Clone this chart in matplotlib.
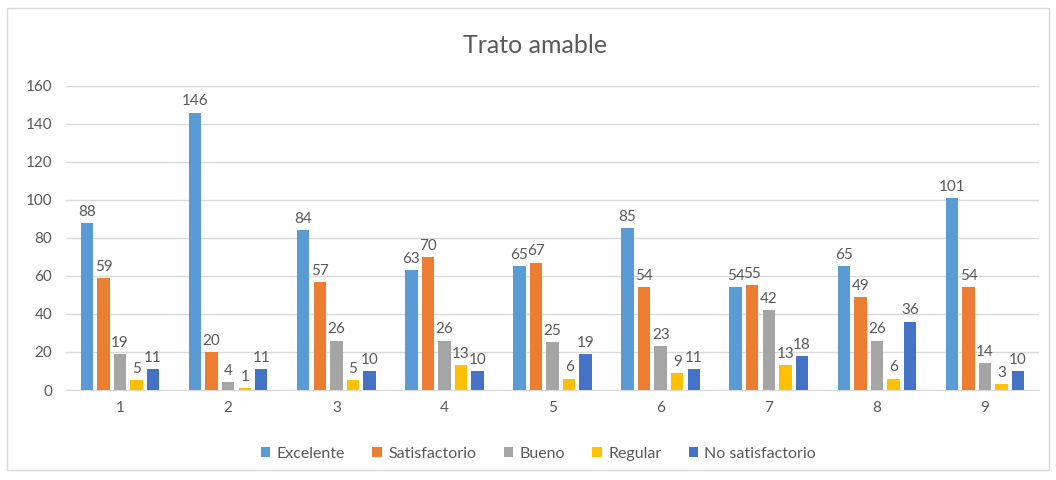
import numpy as np
import matplotlib.pyplot as plt
from matplotlib.patches import Rectangle

plt.rcParams['font.family'] = ['Lato', 'DejaVu Sans']

# Data
categories = ["1", "2", "3", "4", "5", "6", "7", "8", "9"]
series_names = ["Excelente", "Satisfactorio", "Bueno", "Regular", "No satisfactorio"]
excelente = [88, 146, 84, 63, 65, 85, 54, 65, 101]
satisfactorio = [59, 20, 57, 70, 67, 54, 55, 49, 54]
bueno = [19, 4, 26, 26, 25, 23, 42, 26, 14]
regular = [5, 1, 5, 13, 6, 9, 13, 6, 3]
no_satisfactorio = [11, 11, 10, 10, 19, 11, 18, 36, 10]

colors = ["#5B9BD5", "#ED7D31", "#A5A5A5", "#FFC000", "#4472C4"]
text_color = "#595959"

fig = plt.figure(figsize=(10.56, 4.8), dpi=100)
ax = fig.add_axes([0.0625, 0.1875, 0.9215, 0.6335])

# outer chart frame
fig.patches.append(Rectangle((0.007, 0.02), 0.986, 0.963, transform=fig.transFigure,
                             fill=False, edgecolor="#D9D9D9", linewidth=1))

x = np.arange(len(categories))
pitch = 0.153
width = 0.115
all_series = [excelente, satisfactorio, bueno, regular, no_satisfactorio]
for i, (name, vals) in enumerate(zip(series_names, all_series)):
    bars = ax.bar(x + (i - 2) * pitch, vals, width, color=colors[i], label=name, zorder=3)
    ax.bar_label(bars, padding=3, fontsize=11, color=text_color)

ax.set_xlim(-0.5, len(categories) - 0.5)
ax.set_ylim(0, 160)
ax.set_yticks(range(0, 161, 20))
ax.set_xticks(x)
ax.set_xticklabels(categories)
ax.tick_params(axis="both", length=0, labelsize=11, colors=text_color)
ax.tick_params(axis="x", pad=8)
ax.tick_params(axis="y", pad=10)
ax.grid(axis="y", color="#D9D9D9", linewidth=1, zorder=0)
for side in ["top", "right", "left"]:
    ax.spines[side].set_visible(False)
ax.spines["bottom"].set_color("#D9D9D9")

fig.text(0.507, 0.905, "Trato amable", ha="center", va="center", fontsize=18, color=text_color)

fig.legend(loc="center", bbox_to_anchor=(0.51, 0.055), ncol=5, frameon=False,
           fontsize=11.5, labelcolor=text_color, handlelength=0.6, handleheight=0.6,
           handletextpad=0.4, columnspacing=1.7)

fig.savefig("out.png", dpi=100)
